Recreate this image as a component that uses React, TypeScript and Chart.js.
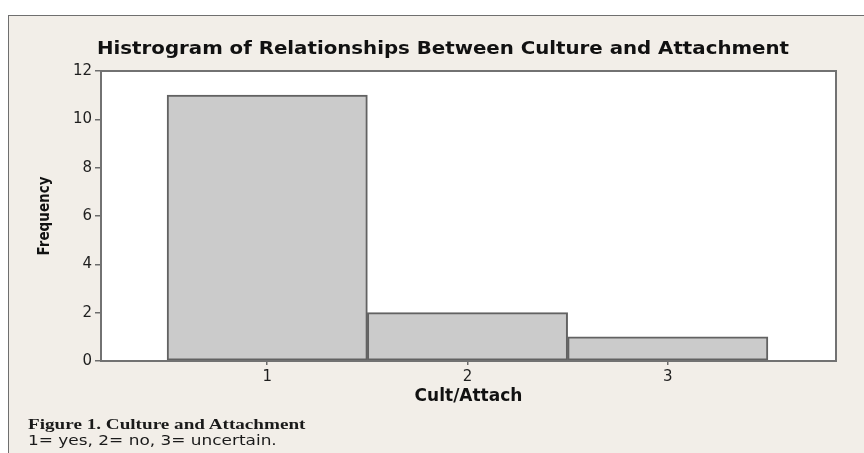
import React, { useEffect, useLayoutEffect, useRef } from "react";
import { Chart, registerables } from "chart.js";

Chart.register(...registerables);

// ---- data ----
const binCenters = [1, 2, 3];
const frequencies = [11, 2, 1];
const xTickValues = [1, 2, 3];
const yMin = 0;
const yMax = 12;
const yStep = 2;
const xMin = 0.17;
const xMax = 3.84;
const titleText = "Histrogram of Relationships Between Culture and Attachment";
const xTitle = "Cult/Attach";
const yTitle = "Frequency";
const captionTitle = "Figure 1. Culture and Attachment";
const captionNote = "1= yes, 2= no, 3= uncertain.";

const framePlugin = {
  id: "frameBox",
  beforeDatasetsDraw(chart: any) {
    const { ctx, chartArea: a } = chart;
    ctx.save();
    ctx.fillStyle = "#ffffff";
    ctx.fillRect(a.left, a.top, a.right - a.left, a.bottom - a.top);
    ctx.restore();
  },
  afterDatasetsDraw(chart: any) {
    const { ctx, chartArea: a } = chart;
    ctx.save();
    ctx.strokeStyle = "#727272";
    ctx.lineWidth = 2;
    ctx.strokeRect(a.left, a.top, a.right - a.left, a.bottom - a.top);
    ctx.restore();
  },
};

function FitText(props: { text: string; target: number; style: React.CSSProperties; origin?: string }) {
  const ref = useRef<HTMLSpanElement>(null);
  useLayoutEffect(() => {
    const el = ref.current;
    if (!el) return;
    const w = el.offsetWidth;
    const k = w > 0 ? props.target / w : 1;
    const base = props.origin === "center" ? "translateX(-50%) " : "";
    el.style.transform = `${base}scaleX(${k})`;
  }, [props.text, props.target]);
  return (
    <span
      ref={ref}
      style={{
        position: "absolute",
        whiteSpace: "nowrap",
        lineHeight: 1,
        transformOrigin: props.origin === "center" ? "center" : "left",
        ...props.style,
      }}
    >
      {props.text}
    </span>
  );
}

export default function App() {
  const canvasRef = useRef<HTMLCanvasElement>(null);

  useEffect(() => {
    const canvas = canvasRef.current;
    if (!canvas) return;
    const chart = new Chart(canvas, {
      type: "bar",
      data: {
        datasets: [
          {
            data: binCenters.map((x, i) => ({ x, y: frequencies[i] })),
            backgroundColor: "#cbcbcb",
            borderColor: "#626262",
            borderWidth: 2,
            borderSkipped: false,
            barPercentage: 1,
            categoryPercentage: 1,
          },
        ],
      },
      options: {
        responsive: false,
        animation: false,
        devicePixelRatio: 1,
        layout: { padding: { left: 0, top: 71, right: 28, bottom: 42 } },
        plugins: {
          legend: { display: false },
          title: { display: false },
          tooltip: { enabled: false },
        },
        scales: {
          x: {
            type: "linear",
            min: xMin,
            max: xMax,
            offset: false,
            afterBuildTicks: (s: any) => {
              s.ticks = xTickValues.map((v) => ({ value: v }));
            },
            afterFit: (s: any) => {
              s.height = 50;
            },
            border: { display: false },
            grid: {
              offset: false,
              drawOnChartArea: false,
              drawTicks: true,
              tickLength: 4,
              color: "#6c6c6c",
              lineWidth: 1.5,
            },
            ticks: {
              padding: 3,
              color: "#1e1e1e",
              font: { family: "'DejaVu Sans'", size: 15 },
              maxRotation: 0,
            },
            title: {
              display: true,
              text: xTitle,
              color: "#111",
              font: { family: "'DejaVu Sans'", size: 17, weight: "bold" },
              padding: { top: 0, bottom: 4 },
            },
          },
          y: {
            type: "linear",
            min: yMin,
            max: yMax,
            afterFit: (s: any) => {
              s.width = 101;
            },
            border: { display: false },
            grid: {
              drawOnChartArea: false,
              drawTicks: true,
              tickLength: 6,
              color: "#6c6c6c",
              lineWidth: 1.5,
            },
            ticks: {
              stepSize: yStep,
              padding: 3,
              color: "#1e1e1e",
              font: { family: "'DejaVu Sans'", size: 15 },
            },
            title: {
              display: true,
              text: yTitle,
              color: "#111",
              font: { family: "'DejaVu Sans Condensed', 'DejaVu Sans'", size: 15, weight: "bold" },
              padding: { top: 36, bottom: 0 },
            },
          },
        },
      },
      plugins: [framePlugin],
    } as any);
    return () => chart.destroy();
  }, []);

  return (
    <div
      style={{
        position: "absolute",
        left: 0,
        top: 0,
        width: 864,
        height: 453,
        background: "#ffffff",
        overflow: "hidden",
      }}
    >
      <div
        style={{
          position: "absolute",
          left: 8,
          top: 15,
          right: 0,
          bottom: 0,
          background: "#f2eee8",
          borderLeft: "1px solid #6f6f6f",
          borderTop: "1px solid #6f6f6f",
        }}
      />
      <canvas
        ref={canvasRef}
        width={864}
        height={453}
        style={{ position: "absolute", left: 0, top: 0, width: 864, height: 453 }}
      />
      <FitText
        text={titleText}
        target={692}
        origin="center"
        style={{
          left: 443,
          top: 38.5,
          fontFamily: "'DejaVu Sans'",
          fontWeight: "bold",
          fontSize: 18,
          color: "#111",
        }}
      />
      <FitText
        text={captionTitle}
        target={277}
        style={{
          left: 28,
          top: 416.5,
          fontFamily: "'Liberation Serif'",
          fontWeight: "bold",
          fontSize: 15,
          color: "#1a1a1a",
        }}
      />
      <FitText
        text={captionNote}
        target={249}
        style={{
          left: 28,
          top: 433,
          fontFamily: "'DejaVu Sans'",
          fontSize: 14,
          color: "#1a1a1a",
        }}
      />
    </div>
  );
}
